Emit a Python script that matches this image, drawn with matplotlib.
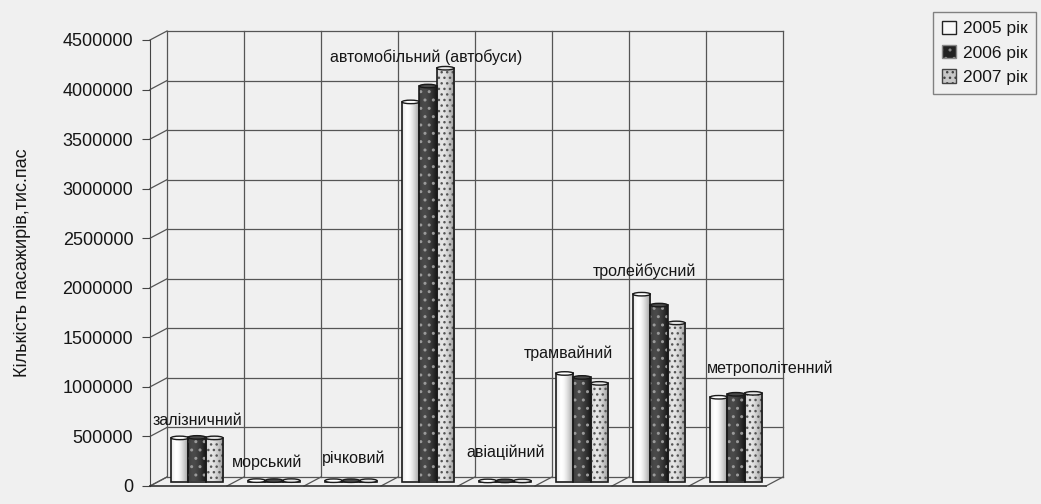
import matplotlib.pyplot as plt
import numpy as np
from matplotlib.patches import Rectangle, Ellipse, Patch
from matplotlib.colors import LinearSegmentedColormap

plt.rcParams['font.family'] = ['Liberation Sans', 'DejaVu Sans']

categories = ['залізничний', 'морський', 'річковий', 'автомобільний (автобуси)',
              'авіаційний', 'трамвайний', 'тролейбусний', 'метрополітенний']
years = ['2005 рік', '2006 рік', '2007 рік']
v2005 = [440000, 9000, 8000, 3830000, 6000, 1090000, 1890000, 850000]
v2006 = [445000, 9000, 8000, 3990000, 6000, 1050000, 1780000, 880000]
v2007 = [440000, 9000, 8000, 4170000, 6000, 990000, 1600000, 890000]
yticks = list(range(0, 4500001, 500000))

# where the category names sit (data coords)
label_x = [-0.47, 1.02, 2.14, 3.08, 4.12, 4.93, 5.92, 7.55]
label_y = [665000, 242000, 283000, 4330000, 343000, 1342000, 2170000, 1190000]
label_ha = ['left', 'center', 'center', 'center', 'center', 'center', 'center', 'center']

bg = '#f0f0f0'
txt = '#161616'
fig = plt.figure(figsize=(10.41, 5.04), dpi=100, facecolor=bg)
ax = fig.add_axes([150 / 1041, 18 / 504, 616 / 1041, 446 / 504])
ax.set_facecolor(bg)
ax.set_xlim(-0.5, 7.5)
ax.set_ylim(0, 4500000)

# pseudo 3d depth offset in data units
DX = 17 / 77
DY = 9 / 446 * 4500000
gc = '#555555'

# back wall grid
for y in yticks:
    ax.plot([-0.5 + DX, 7.5 + DX], [y + DY, y + DY], color=gc, lw=0.9, clip_on=False, zorder=1)
    ax.plot([-0.5, -0.5 + DX], [y, y + DY], color=gc, lw=0.9, clip_on=False, zorder=1)
for k in range(9):
    xb = k - 0.5 + DX
    ax.plot([xb, xb], [DY, 4500000 + DY], color=gc, lw=0.9, clip_on=False, zorder=1)
    ax.plot([k - 0.5, xb], [0, DY], color=gc, lw=0.9, clip_on=False, zorder=1)
ax.plot([-0.5, 7.5], [0, 0], color='#333333', lw=1.2, clip_on=False, zorder=6)

# cylinders
w = 0.225
series = [v2005, v2006, v2007]
styles = [
    dict(c0='#8a8a8a', c1='#ffffff', hatch=None, hc=None),
    dict(c0='#111111', c1='#4a4a4a', hatch='..', hc='#9a9a9a'),
    dict(c0='#8c8c8c', c1='#e6e6e6', hatch='...', hc='#555555'),
]
t = np.linspace(0, 1, 60)
profile = np.clip(1 - np.abs((t - 0.3) / 0.75) ** 1.6, 0, 1)
cap_h = 3.5 / 446 * 4500000
for j, vals in enumerate(series):
    st = styles[j]
    cmap = LinearSegmentedColormap.from_list('c%d' % j, [st['c0'], st['c1']])
    for i, v in enumerate(vals):
        x0 = i + DX / 2 + (j - 1.5) * w
        y0 = DY / 2
        rect = Rectangle((x0, y0), w, v, facecolor='none', edgecolor='none', zorder=3)
        ax.add_patch(rect)
        im = ax.imshow(profile[None, :], extent=[x0, x0 + w, y0, y0 + v], cmap=cmap,
                       vmin=0, vmax=1, aspect='auto', zorder=3, interpolation='bilinear')
        im.set_clip_path(rect)
        if st['hatch']:
            ax.add_patch(Rectangle((x0, y0), w, v, facecolor='none', edgecolor=st['hc'],
                                   hatch=st['hatch'], lw=0, zorder=4))
        ax.add_patch(Rectangle((x0, y0), w, v, facecolor='none', edgecolor='#1a1a1a',
                               lw=1.2, zorder=4))
        ax.add_patch(Ellipse((x0 + w / 2, y0 + v), w, cap_h, facecolor=st['c1'],
                             edgecolor='#1a1a1a', lw=1.0, zorder=5))

ax.set_xlim(-0.5, 7.5)
ax.set_ylim(0, 4500000)

for i, name in enumerate(categories):
    ax.text(label_x[i], label_y[i], name, ha=label_ha[i], va='center', fontsize=11.5,
            color=txt, zorder=7, clip_on=False)

for s in ['top', 'right', 'bottom']:
    ax.spines[s].set_visible(False)
ax.spines['left'].set_color('#444444')
ax.set_xticks([])
ax.set_yticks(yticks)
ax.set_yticklabels([str(y) for y in yticks], fontsize=13, color=txt)
ax.tick_params(axis='y', length=6, color='#444444', pad=6)
ax.set_ylabel('Кількість пасажирів,тис.пас', fontsize=13, color=txt, labelpad=23)

handles = [Patch(facecolor='#f8f8f8', edgecolor='#222222'),
           Patch(facecolor='#222222', edgecolor='#888888', hatch='..'),
           Patch(facecolor='#c8c8c8', edgecolor='#444444', hatch='...')]
leg = fig.legend(handles, years, loc='upper right', bbox_to_anchor=(1036 / 1041, 1 - 12 / 504),
                 borderaxespad=0, fontsize=12.5, frameon=True, fancybox=False, handlelength=0.8,
                 handleheight=0.8, handletextpad=0.4, labelspacing=0.5, borderpad=0.5)
leg.get_frame().set_edgecolor('#666666')
leg.get_frame().set_facecolor(bg)
for tx in leg.get_texts():
    tx.set_color(txt)

fig.savefig('out.png', dpi=100, facecolor=bg)
